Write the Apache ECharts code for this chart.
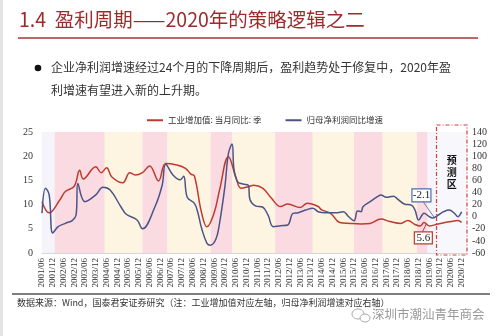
<!DOCTYPE html>
<html><head><meta charset="utf-8">
<script src="https://cdn.jsdelivr.net/npm/echarts/dist/echarts.min.js"></script>
<style>html,body{margin:0;padding:0;background:#fff}#c{width:500px;height:336px}</style>
</head><body><div id="c"></div>
<script>
// ---------- data ----------
const redName = '工业增加值: 当月同比: 季';
const blueName = '归母净利润同比增速';
const redDates = ['2001/06','2001/10','2002/04','2002/07','2002/12','2003/03','2003/05','2003/12','2004/03','2004/06','2004/09','2005/03','2005/07','2005/10','2006/02','2006/06','2006/11','2007/03','2007/09','2008/02','2008/05','2008/07','2008/11','2009/02','2009/06','2009/09','2010/02','2010/06','2010/09','2011/01','2011/04','2011/09','2012/02','2012/07','2012/11','2013/06','2013/10','2014/04','2014/06','2014/11','2015/04','2015/10','2016/04','2016/09','2017/03','2017/08','2018/02','2018/06','2018/10','2019/01','2019/03','2019/06','2019/11','2020/06','2020/10','2020/12'];
const redValues = [10.6,8.3,11.0,12.7,13.8,17.1,15.3,17.8,16.6,17.6,15.7,14.5,16.6,16.1,16.6,18.0,14.9,18.5,18.2,17.5,16.3,15.9,8.3,5.4,8.3,13.0,19.9,15.8,13.4,13.7,14.0,13.4,11.3,9.6,10.1,9.4,10.3,9.6,8.9,8.2,6.3,6.1,6.0,6.1,7.0,6.5,6.1,6.7,5.9,5.6,6.3,5.6,6.0,6.5,6.7,6.3];
const blueDates = ['2001/06','2001/08','2001/10','2001/12','2002/03','2002/07','2002/11','2003/01','2003/02','2003/06','2003/12','2004/04','2004/08','2005/02','2005/05','2005/11','2006/02','2006/09','2007/01','2007/03','2007/07','2007/11','2008/01','2008/03','2008/07','2008/09','2008/11','2009/02','2009/04','2009/07','2009/09','2009/12','2010/02','2010/04','2010/05','2010/07','2010/10','2011/01','2011/02','2011/05','2011/09','2011/12','2012/03','2012/07','2012/11','2013/02','2013/05','2013/09','2014/01','2014/04','2014/08','2015/02','2015/06','2015/09','2015/12','2016/02','2016/04','2016/05','2016/09','2017/01','2017/03','2017/06','2017/10','2017/12','2018/04','2018/08','2018/10','2018/12','2019/02','2019/03','2019/06','2019/08','2019/11','2020/02','2020/05','2020/08','2020/10','2020/11','2020/12'];
const blueValues = [5.6,47,36,-27,-16.5,-11,-6,2.8,55,24.8,36,48.6,44,16.5,4,-5.5,-20,16.5,52,86.6,69,61,67,32,22,5.6,-19,-44,-47,-37,-11,50,105,120,80,58,54,52,28,18,16,3,-16.5,-15,-13.7,5.6,6.6,11,14,8.3,6.6,6.6,8.3,0,-6.6,9.4,8.3,16.5,24.8,33,36,32,34,30,21,19,11,-5.5,2.8,5.6,0,-2.1,2.8,8.3,11,5.6,0,2.8,8.3];
// cycle bands (boundaries and phase type)
const bandBounds = ['2001/05','2002/01','2004/05','2006/02','2007/04','2009/04','2010/04','2012/04','2014/01','2015/12','2017/04','2018/11','2019/05','2019/10'];
const bandTypes  = ['n','p','y','p','y','p','y','p','y','p','y','p','n'];
const predictionZone = ['2019/10','2021/03'];
const cycleLabels = ['22M','24M','24M','28M','24M'];
const cycleLabelDates = ['2005/01','2008/01','2011/02','2014/10','2017/11'];
const blueNote = {date:'2019/08', value:-2.1, text:'-2.1'};
const redNote  = {date:'2019/06', value:5.6, text:'5.6'};
const leftTicks = {min:0, max:25, step:5};
const rightTicks = {min:-60, max:140, step:20};

// ---------- helpers ----------
const xIdx = s => { const [y,m] = s.split('/').map(Number); return (y-2001)*12 + (m-6); };
const idxLabel = v => { const y = 2001 + Math.floor((v+5)/12); const m = (v+5)%12 + 1; return y + '/' + (m<10?'0'+m:m); };
const X_MAX = xIdx(predictionZone[1]);
const LAST_LABEL = xIdx('2020/12');
const RED = '#c0392f', BLUE = '#4b5485';
const bandColor = {n:'#f5f4fa', p:'#fadbe2', y:'#fdf5e2'};
const serif = 'Liberation Serif';
const cjk = '"Noto Sans CJK SC"';

const areas = [];
for (let i=0;i<bandTypes.length;i++){
  areas.push([{xAxis: xIdx(bandBounds[i]), itemStyle:{color:bandColor[bandTypes[i]]}}, {xAxis: xIdx(bandBounds[i+1])}]);
}
areas.push([{xAxis: xIdx(predictionZone[0]), itemStyle:{color:'#f8f7fc'}}, {xAxis: X_MAX}]);

const chart = echarts.init(document.getElementById('c'));
chart.setOption({
  animation:false,
  backgroundColor:'#fff',
  grid:{left:42,right:33,top:132,bottom:83,outerBoundsMode:'none'},
  legend:{
    left:142, top:111, itemGap:24, itemWidth:16, itemHeight:2, icon:'rect',
    textStyle:{fontSize:8.5, color:'#333', fontFamily:cjk},
    data:[redName, blueName]
  },
  xAxis:{
    type:'value', min:0, max:X_MAX, interval:6,
    axisLine:{lineStyle:{color:'#d6d6d6'}}, axisTick:{show:false}, splitLine:{show:false},
    axisLabel:{rotate:90, fontSize:9, fontFamily:serif, color:'#333', margin:5, showMaxLabel:false,
      formatter: v => (v%6===0 && v<=LAST_LABEL) ? idxLabel(v) : ''}
  },
  yAxis:[
    {type:'value', min:leftTicks.min, max:leftTicks.max, interval:leftTicks.step,
     splitLine:{show:false}, axisLine:{show:false}, axisTick:{show:false},
     axisLabel:{fontSize:10, fontFamily:serif, color:'#333', margin:9}},
    {type:'value', position:'right', min:rightTicks.min, max:rightTicks.max, interval:rightTicks.step,
     splitLine:{show:false}, axisLine:{show:false}, axisTick:{show:false},
     axisLabel:{fontSize:10, fontFamily:serif, color:'#333', margin:5}}
  ],
  series:[
    {name:redName, type:'line', yAxisIndex:0, smooth:0.4, symbol:'none',
     lineStyle:{color:RED, width:1.5}, itemStyle:{color:RED},
     data: redDates.map((d,i)=>[xIdx(d), redValues[i]]),
     markArea:{silent:true, data:areas}},
    {name:blueName, type:'line', yAxisIndex:1, smooth:0.4, symbol:'none',
     lineStyle:{color:BLUE, width:1.5}, itemStyle:{color:BLUE},
     data: blueDates.map((d,i)=>[xIdx(d), blueValues[i]])}
  ]
});

// ---------- overlays positioned through the axes ----------
const px = v => chart.convertToPixel({xAxisIndex:0}, v);
const pyL = v => chart.convertToPixel({yAxisIndex:0}, v);
const pyR = v => chart.convertToPixel({yAxisIndex:1}, v);
const gTop = pyL(leftTicks.max), gBot = pyL(leftTicks.min);
const g = [];
g.push({type:'rect', shape:{x:0,y:0,width:3,height:336}, style:{fill:'#e4e4e4'}, silent:true});
g.push({type:'text', left:19, top:10, style:{text:'1.4  盈利周期——2020年的策略逻辑之二', fontSize:19.5, fontFamily:cjk, fill:'#9e2b2c'}});
g.push({type:'line', shape:{x1:18,y1:38,x2:478,y2:38}, style:{stroke:'#a83536', lineWidth:1.5}});
g.push({type:'circle', shape:{cx:38,cy:68,r:3.3}, style:{fill:'#111'}});
g.push({type:'text', left:51, top:61, style:{text:'企业净利润增速经过24个月的下降周期后，盈利趋势处于修复中，2020年盈', fontSize:12, fontFamily:cjk, fill:'#333'}});
g.push({type:'text', left:51, top:84, style:{text:'利增速有望进入新的上升期。', fontSize:12, fontFamily:cjk, fill:'#333'}});
cycleLabels.forEach((t,i)=>{
  g.push({type:'text', x:px(xIdx(cycleLabelDates[i])), y:gTop+20, style:{text:t, fontSize:10, fontFamily:serif, fill:'#333', textAlign:'center', textVerticalAlign:'middle'}});
});
const bx1 = px(xIdx(predictionZone[0])), bx2 = px(X_MAX);
g.push({type:'rect', shape:{x:bx1, y:gTop-7, width:bx2-bx1, height:gBot-gTop+9}, style:{fill:null, stroke:'#d0403c', lineWidth:1.2, lineDash:[4,2,1,2]}, z:10});
g.push({type:'text', x:(bx1+bx2)/2, y:gTop+22, style:{text:'预\n测\n区', fontSize:10, fontWeight:'bold', fontFamily:cjk, fill:'#111', textAlign:'center', lineHeight:12}, z:10});
const pb = [px(xIdx(blueNote.date)), pyR(blueNote.value)];
const bbx = pb[0]-21, bby = pb[1]-29, bw = 19, bh = 13;
g.push({type:'line', shape:{x1:bbx+bw*0.6, y1:bby+bh, x2:pb[0]+1, y2:pb[1]-1}, style:{stroke:'#6f7fa6', lineWidth:1}, z:10});
g.push({type:'rect', shape:{x:bbx, y:bby, width:bw, height:bh}, style:{fill:'#fff', stroke:'#4a6fb0', lineWidth:1.2}, z:11});
g.push({type:'text', x:bbx+bw/2, y:bby+bh/2, style:{text:blueNote.text, fontSize:11, fontFamily:serif, fill:'#222', textAlign:'center', textVerticalAlign:'middle'}, z:12});
const pr = [px(xIdx(redNote.date)), pyL(redNote.value)];
const rbx = pr[0]-15, rby = pr[1]+6, rw = 18, rh = 12;
g.push({type:'line', shape:{x1:rbx+rw*0.45, y1:rby, x2:pr[0]-3, y2:pr[1]-2}, style:{stroke:RED, lineWidth:1}, z:10});
g.push({type:'rect', shape:{x:rbx, y:rby, width:rw, height:rh}, style:{fill:'#fff', stroke:RED, lineWidth:1.2}, z:11});
g.push({type:'text', x:rbx+rw/2, y:rby+rh/2, style:{text:redNote.text, fontSize:11, fontFamily:serif, fill:'#222', textAlign:'center', textVerticalAlign:'middle'}, z:12});
g.push({type:'line', shape:{x1:12,y1:294,x2:490,y2:294}, style:{stroke:'#555', lineWidth:1.5}});
g.push({type:'text', left:17, top:298, style:{text:'数据来源：Wind，国泰君安证券研究（注：工业增加值对应左轴，归母净利润增速对应右轴）', fontSize:9, fontFamily:cjk, fill:'#333'}});
g.push({type:'ellipse', shape:{cx:358,cy:314,rx:6,ry:5}, style:{fill:null, stroke:'#aaa', lineWidth:1}});
g.push({type:'ellipse', shape:{cx:365,cy:318,rx:5,ry:4}, style:{fill:'#fff', stroke:'#aaa', lineWidth:1}});
g.push({type:'text', left:372, top:308, style:{text:'深圳市潮汕青年商会', fontSize:12.5, fontFamily:cjk, fill:'#999'}});
chart.setOption({graphic:g});
</script>
</body></html>
